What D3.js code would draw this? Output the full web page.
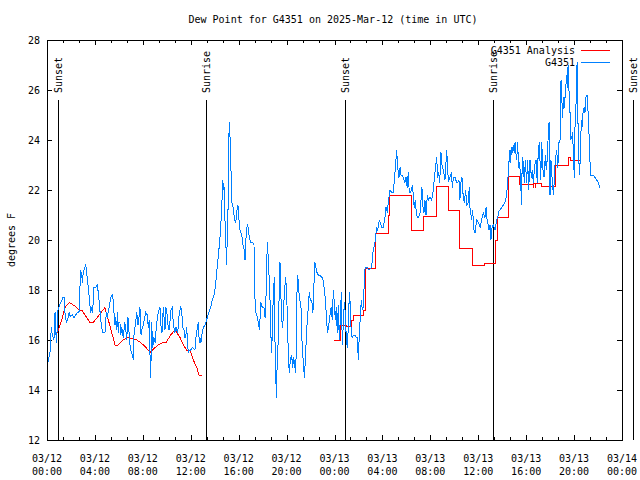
<!DOCTYPE html>
<html><head><meta charset="utf-8">
<script src="https://cdn.jsdelivr.net/npm/d3@7"></script>
<style>
body{margin:0;background:#fff}
svg{display:block}
text{font-family:"DejaVu Sans Mono","Liberation Mono",monospace;font-size:10px;fill:#000}
</style>
</head><body>
<svg id="c" width="640" height="480"></svg>
<script>
const titleText = "Dew Point for G4351 on 2025-Mar-12 (time in UTC)";
const yLabelText = "degrees F";
const yTicks = [12,14,16,18,20,22,24,26,28];
const xMajorHours = [0,4,8,12,16,20,24,28,32,36,40,44,48];
const xTickDates = ["03/12","03/12","03/12","03/12","03/12","03/12","03/13","03/13","03/13","03/13","03/13","03/13","03/14"];
const xTickTimes = ["00:00","04:00","08:00","12:00","16:00","20:00","00:00","04:00","08:00","12:00","16:00","20:00","00:00"];
const sunHours = [0.92,13.27,24.84,37.26,48.92];
const sunLabels = ["Sunset","Sunrise","Sunset","Sunrise","Sunset"];
const seriesNames = ["G4351 Analysis","G4351"];

// G4351 observations (hours since 03/12 00:00 UTC, deg F)
const blueHours = [0.08,0.25,0.36,0.44,0.58,0.67,0.78,0.86,0.92,1.00,1.14,1.34,1.48,1.50,1.61,1.78,1.84,1.92,2.11,2.25,2.40,2.53,2.67,2.75,2.81,2.90,2.95,3.03,3.15,3.23,3.31,3.36,3.45,3.56,3.65,3.73,3.81,3.92,4.06,4.20,4.28,4.40,4.48,4.57,4.67,4.76,4.84,4.95,5.03,5.18,5.32,5.45,5.53,5.59,5.68,5.73,5.82,5.87,5.95,6.01,6.09,6.15,6.24,6.37,6.49,6.57,6.65,6.76,6.85,6.93,7.04,7.15,7.20,7.26,7.40,7.49,7.60,7.68,7.76,7.85,7.96,8.04,8.16,8.24,8.37,8.46,8.54,8.60,8.66,8.74,8.82,8.93,9.02,9.16,9.29,9.43,9.51,9.60,9.71,9.77,9.85,9.91,9.99,10.07,10.18,10.26,10.34,10.46,10.54,10.63,10.68,10.77,10.88,10.96,11.04,11.16,11.24,11.33,11.44,11.52,11.60,11.66,11.74,11.79,11.88,11.99,12.13,12.35,12.43,12.55,12.63,12.71,12.77,12.85,12.96,13.05,13.19,13.27,13.38,13.52,13.66,13.80,13.94,14.02,14.11,14.22,14.33,14.44,14.53,14.61,14.67,14.75,14.80,14.88,14.94,15.00,15.05,15.11,15.17,15.22,15.28,15.33,15.39,15.44,15.53,15.61,15.72,15.78,15.84,15.92,15.97,16.03,16.11,16.19,16.28,16.39,16.47,16.53,16.59,16.67,16.76,16.84,16.89,17.00,17.17,17.28,17.34,17.42,17.51,17.64,17.73,17.86,17.97,18.11,18.20,18.28,18.39,18.47,18.56,18.64,18.70,18.76,18.84,18.92,18.98,19.03,19.09,19.14,19.20,19.28,19.37,19.45,19.53,19.64,19.73,19.81,19.93,20.01,20.09,20.14,20.23,20.31,20.42,20.51,20.59,20.76,20.81,20.89,20.98,21.06,21.14,21.23,21.31,21.40,21.48,21.56,21.64,21.73,21.81,21.89,21.98,22.06,22.12,22.20,22.29,22.37,22.45,22.54,22.65,22.79,22.93,23.01,23.10,23.18,23.27,23.35,23.43,23.52,23.60,23.71,23.82,23.90,23.98,24.07,24.15,24.23,24.32,24.40,24.48,24.57,24.65,24.73,24.82,24.90,24.98,25.07,25.15,25.24,25.32,25.40,25.49,25.60,25.71,25.82,25.91,25.99,26.07,26.15,26.24,26.32,26.41,26.52,26.60,26.71,26.88,27.10,27.23,27.38,27.52,27.60,27.74,27.94,28.07,28.21,28.30,28.41,28.49,28.63,28.77,28.91,29.05,29.19,29.27,29.38,29.47,29.55,29.63,29.74,29.88,29.97,30.07,30.16,30.24,30.35,30.52,30.58,30.66,30.74,30.83,30.91,31.03,31.14,31.22,31.30,31.39,31.47,31.55,31.64,31.75,31.83,31.97,32.11,32.22,32.30,32.41,32.53,32.61,32.69,32.78,32.89,32.97,33.08,33.22,33.37,33.45,33.54,33.64,33.75,33.84,33.92,34.06,34.20,34.28,34.39,34.47,34.56,34.64,34.75,34.83,34.95,35.03,35.17,35.25,35.31,35.45,35.53,35.64,35.73,35.87,36.01,36.15,36.28,36.42,36.56,36.65,36.70,36.79,36.89,36.98,37.06,37.15,37.26,37.40,37.54,37.62,37.76,37.81,37.95,38.09,38.23,38.37,38.45,38.51,38.59,38.65,38.71,38.76,38.84,38.92,39.01,39.07,39.12,39.21,39.29,39.37,39.46,39.54,39.62,39.67,39.76,39.84,39.93,40.04,40.12,40.21,40.32,40.43,40.51,40.60,40.71,40.82,40.93,41.01,41.10,41.21,41.30,41.38,41.49,41.60,41.68,41.77,41.85,41.91,41.99,42.07,42.16,42.27,42.35,42.43,42.55,42.64,42.74,42.83,42.91,42.97,43.05,43.11,43.19,43.27,43.39,43.44,43.50,43.58,43.66,43.72,43.80,43.88,43.94,44.02,44.08,44.16,44.25,44.33,44.39,44.44,44.50,44.55,44.60,44.66,44.72,44.83,44.91,44.99,45.08,45.13,45.22,45.27,45.33,45.41,45.61,45.75,45.89,46.02,46.16];
const blueValues = [15.1,15.5,16.5,16.2,16.0,17.1,15.9,16.5,17.2,17.3,17.5,17.7,17.7,17.1,16.7,16.9,17.1,16.95,17.0,16.9,17.0,17.1,17.1,18.1,18.8,18.6,18.3,18.7,18.9,19.0,18.8,18.4,18.1,17.5,17.1,17.3,17.1,18.1,18.1,18.2,17.9,17.3,16.8,16.5,16.3,16.3,16.3,17.1,16.9,17.3,17.7,17.8,17.6,17.1,16.6,16.9,16.4,17.1,16.3,16.7,16.7,16.2,16.5,16.1,16.7,16.5,16.0,16.9,16.3,15.8,15.5,15.4,15.2,16.2,16.7,17.1,16.6,16.9,17.3,16.2,16.5,16.6,16.9,17.1,17.0,16.5,16.8,15.4,14.5,16.7,15.7,16.1,15.9,16.7,17.1,17.3,16.6,16.3,17.3,16.9,16.4,17.3,17.2,16.7,16.4,16.7,17.2,17.3,16.7,16.4,16.3,16.5,16.3,16.5,17.1,17.3,17.2,16.5,16.4,16.1,16.2,16.5,15.9,15.5,15.6,15.6,15.7,15.6,16.1,16.5,16.7,15.9,16.1,15.9,16.3,16.5,16.6,16.7,16.9,17.1,17.3,17.6,17.8,18.0,18.4,19.0,19.5,20.1,20.8,21.6,22.4,22.0,22.1,20.3,19.7,19.0,20.3,21.2,23.9,24.7,24.1,23.1,22.4,21.5,21.3,21.0,20.7,20.8,21.1,21.4,21.3,20.8,20.4,20.3,20.1,19.7,19.6,19.2,19.9,20.5,20.6,20.3,20.1,19.9,19.9,19.8,17.9,17.1,17.0,16.7,16.4,17.5,17.3,17.3,16.9,17.7,19.9,19.3,18.3,17.3,16.1,15.5,17.1,18.0,18.5,16.0,14.9,13.7,14.8,15.7,17.6,19.1,17.7,16.5,16.9,17.9,18.5,17.7,16.7,15.3,14.7,15.2,15.4,14.9,15.3,14.7,15.7,18.6,18.4,17.7,17.5,17.2,15.5,15.2,14.5,15.1,16.0,16.8,17.3,17.9,17.6,17.6,17.5,17.1,18.3,19.1,18.9,18.7,18.6,18.6,18.5,18.5,18.2,17.9,17.4,16.7,16.3,16.6,16.9,17.3,16.8,18.0,17.5,16.8,17.3,16.3,17.4,16.0,16.8,17.9,15.8,16.6,17.5,17.1,16.1,15.7,16.5,17.9,17.4,16.2,16.1,16.2,16.2,16.1,16.1,15.2,16.2,16.9,17.6,17.2,17.3,18.8,18.9,18.9,18.8,18.9,19.6,19.9,20.5,20.4,20.8,20.5,20.5,20.9,21.3,21.1,21.5,22.0,21.9,21.9,22.7,23.6,22.9,22.5,22.9,22.6,22.6,22.5,22.3,22.5,22.1,22.7,21.9,21.9,22.2,21.7,21.3,21.6,21.1,20.9,20.9,21.1,21.6,22.1,21.3,21.1,21.6,21.0,21.8,21.6,21.7,21.6,21.9,22.3,22.8,23.3,22.5,22.7,22.3,23.5,23.0,22.8,22.4,23.6,22.7,22.4,22.5,22.7,22.1,22.5,22.5,22.3,22.3,22.4,21.6,22.3,22.5,21.7,21.5,22.0,21.4,21.5,22.1,21.3,20.8,21.2,20.4,20.3,20.8,20.7,20.5,20.8,21.1,20.9,21.3,20.9,20.7,20.4,20.6,20.0,20.5,20.6,20.4,20.8,20.9,21.2,21.2,21.3,21.4,21.5,21.8,22.3,22.7,23.3,23.6,23.1,23.7,23.5,23.8,23.5,23.9,23.6,23.2,23.9,22.9,23.1,22.3,21.4,23.3,23.1,22.3,23.2,22.3,23.2,22.0,23.2,22.5,22.8,22.3,23.0,23.2,22.3,23.6,23.9,22.4,23.9,22.9,22.5,23.4,22.8,23.3,24.3,24.7,21.8,23.2,22.5,21.8,22.4,23.2,23.6,22.9,23.9,24.0,26.4,25.7,24.9,25.7,25.3,25.9,26.6,26.1,27.0,25.9,25.1,24.0,24.1,24.3,23.4,22.5,24.6,25.4,27.1,24.6,23.4,22.6,23.1,23.8,24.8,24.5,25.0,25.3,25.1,25.7,25.8,25.5,24.6,23.9,23.1,22.6,22.6,22.5,22.4,22.3,22.1];

// G4351 Analysis, first day (interpolated segment)
const redHoursA = [0.67,0.86,1.23,1.50,1.86,2.20,2.48,2.70,2.90,3.17,3.59,3.86,4.20,4.51,4.84,4.98,5.12,5.40,5.68,5.95,6.37,6.70,7.07,7.49,7.82,8.26,8.60,9.02,9.29,9.71,9.93,10.33,10.68,10.82,11.10,11.38,11.66,11.94,12.21,12.50,12.69,12.91];
const redValuesA = [16.3,16.3,16.8,17.3,17.5,17.4,17.3,17.2,17.2,17.0,16.7,16.7,16.9,17.1,17.3,17.0,16.8,16.3,15.8,15.8,16.0,16.1,16.05,16.0,15.9,15.7,15.5,15.7,15.8,15.9,15.9,16.2,16.4,16.3,16.1,15.8,15.6,15.6,15.2,14.9,14.6,14.6];
// G4351 Analysis, second day (stepped segment)
const redHoursB = [23.98,24.50,24.96,25.46,25.59,26.46,26.55,27.46,28.49,28.63,30.44,31.47,32.53,33.50,34.47,35.53,36.48,37.48,37.60,38.51,39.43,40.59,40.65,40.74,40.82,41.29,42.49,43.52,43.66,44.49];
const redValuesB = [16.0,16.6,16.55,16.8,17.0,17.2,18.87,20.27,21.0,21.8,20.4,20.96,22.13,21.17,19.67,19.0,19.07,20.0,20.9,22.53,22.23,22.1,22.25,22.1,22.25,22.16,23.0,23.3,23.2,23.2];

const colors = {red:"#ff0000", blue:"#0080ff"};
const svg = d3.select("#c");
const x = d3.scaleLinear().domain([0,48]).range([47,622]);
const y = d3.scaleLinear().domain([12,28]).range([440,40]);

// title
svg.append("text").attr("x",333).attr("y",23).attr("text-anchor","middle").text(titleText);
// y label
svg.append("text").attr("transform","translate(15,240) rotate(-90)").attr("text-anchor","middle").text(yLabelText);

const minorHours = d3.range(0,48.001,4/3).filter(h => Math.abs(h/4 - Math.round(h/4)) > 1e-6);

function styleAxis(g){ g.select(".domain").remove(); g.selectAll("line").attr("stroke","#000").attr("shape-rendering","crispEdges"); g.selectAll("text").attr("font-family",null).attr("font-size",null); }

svg.append("g").attr("transform","translate(0,440)").call(d3.axisBottom(x).tickValues(xMajorHours).tickSize(-5).tickFormat("")).call(styleAxis);
svg.append("g").attr("transform","translate(0,440)").call(d3.axisBottom(x).tickValues(minorHours).tickSize(-3).tickFormat("")).call(styleAxis);
svg.append("g").attr("transform","translate(0,40)").call(d3.axisTop(x).tickValues(xMajorHours).tickSize(-5).tickFormat("")).call(styleAxis);
svg.append("g").attr("transform","translate(0,40)").call(d3.axisTop(x).tickValues(minorHours).tickSize(-3).tickFormat("")).call(styleAxis);
svg.append("g").attr("transform","translate(47,0)").call(d3.axisLeft(y).tickValues(yTicks).tickSize(-5).tickPadding(7).tickFormat(d3.format("d"))).call(styleAxis);
svg.append("g").attr("transform","translate(622,0)").call(d3.axisRight(y).tickValues(yTicks).tickSize(-5).tickFormat("")).call(styleAxis);

// two-line x labels
const xl = svg.append("g").selectAll("g").data(xMajorHours).join("g");
xl.append("text").attr("x",d=>x(d)).attr("y",462).attr("text-anchor","middle").text((d,i)=>xTickDates[i]);
xl.append("text").attr("x",d=>x(d)).attr("y",475).attr("text-anchor","middle").text((d,i)=>xTickTimes[i]);

// sun lines
const sg = svg.append("g").selectAll("g").data(sunHours).join("g");
sg.append("line").attr("x1",d=>Math.round(x(d))+0.5).attr("x2",d=>Math.round(x(d))+0.5).attr("y1",100).attr("y2",440).attr("stroke","#000").attr("stroke-width",1).attr("shape-rendering","crispEdges");
sg.append("text").attr("transform",d=>`translate(${Math.round(x(d))+4},93) rotate(-90)`).text((d,i)=>sunLabels[i]);

// data lines
const lineA = d3.line().x(d=>x(d[0])).y(d=>y(d[1]));
const lineStep = d3.line().x(d=>x(d[0])).y(d=>y(d[1])).curve(d3.curveStepAfter);
const redA = redHoursA.map((h,i)=>[h,redValuesA[i]]);
const redB = redHoursB.map((h,i)=>[h,redValuesB[i]]);
const blue = blueHours.map((h,i)=>[h,blueValues[i]]);

svg.append("path").attr("d",lineA(redA)).attr("fill","none").attr("stroke",colors.red).attr("stroke-width",1).attr("shape-rendering","crispEdges");
svg.append("path").attr("d",lineStep(redB)).attr("fill","none").attr("stroke",colors.red).attr("stroke-width",1).attr("shape-rendering","crispEdges");
svg.append("path").attr("d",lineA(blue)).attr("fill","none").attr("stroke",colors.blue).attr("stroke-width",1).attr("shape-rendering","crispEdges");

// border
svg.append("rect").attr("x",47.5).attr("y",40.5).attr("width",575).attr("height",400).attr("fill","none").attr("stroke","#000").attr("stroke-width",1).attr("shape-rendering","crispEdges");

// legend
const leg = svg.append("g");
[[seriesNames[0],colors.red,50],[seriesNames[1],colors.blue,62]].forEach(([n,c,yy])=>{
  leg.append("text").attr("x",575).attr("y",yy+4).attr("text-anchor","end").text(n);
  leg.append("line").attr("x1",581).attr("x2",610).attr("y1",yy+0.5).attr("y2",yy+0.5).attr("stroke",c).attr("stroke-width",1).attr("shape-rendering","crispEdges");
});
</script>
</body></html>
